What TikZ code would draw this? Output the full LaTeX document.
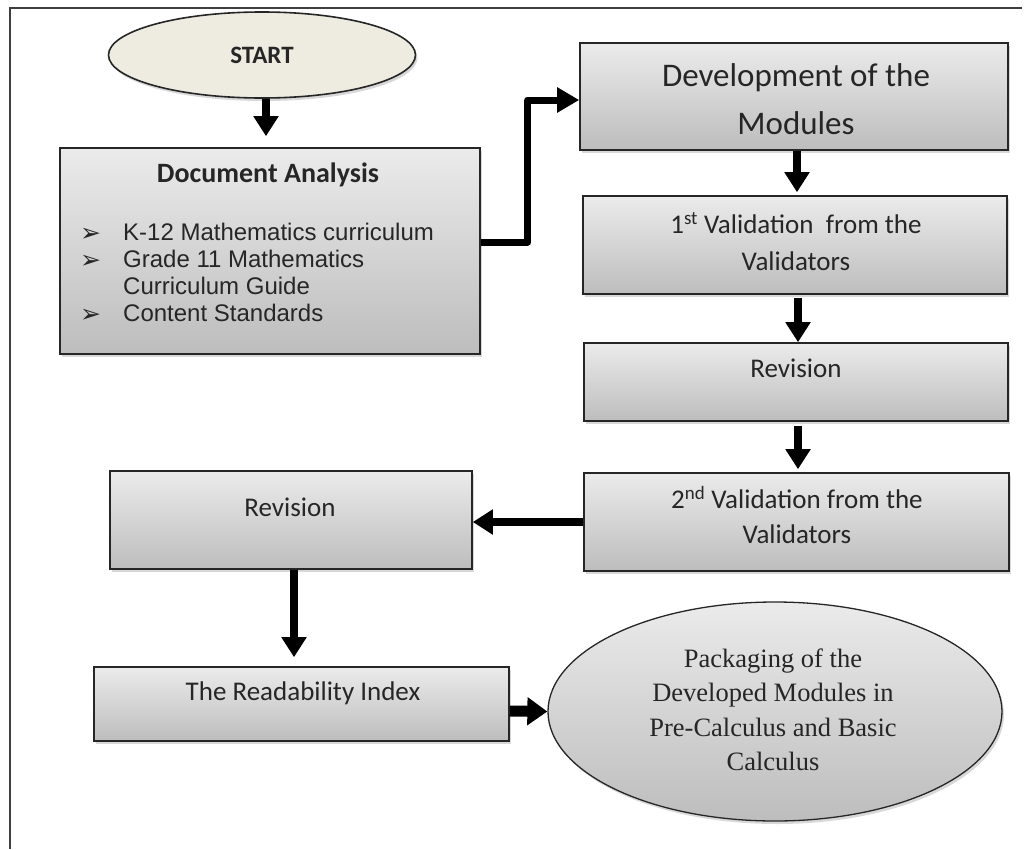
\documentclass[tikz,border=0pt]{standalone}
\usepackage{fontspec}
\setmainfont{Carlito}
\newfontfamily\arialf{Liberation Sans}
\newfontfamily\timesf{Liberation Serif}
\newfontfamily\dejavuf{DejaVu Sans}
\usetikzlibrary{shapes.geometric,arrows.meta,shadows}
\definecolor{boxtop}{HTML}{EBEBEB}
\definecolor{boxbot}{HTML}{BDBDBD}
\definecolor{startfill}{HTML}{EEECE1}
\definecolor{txt}{HTML}{262626}
\definecolor{framec}{HTML}{3F3F3F}
\newcommand{\bul}{\makebox[43pt][l]{\raisebox{-1pt}{\dejavuf\fontsize{25}{27}\selectfont ➢}}}
\begin{document}
\begin{tikzpicture}[x=1pt,y=-1pt,
  shade/.style={drop shadow={shadow xshift=2pt,shadow yshift=-3pt,opacity=0.3}},
  box/.style={rectangle, draw=black!85, line width=1.6pt, top color=boxtop, bottom color=boxbot, shade, inner sep=0pt},
  boxtext/.style={text=txt, align=center, font=\fontsize{27}{37}\selectfont},
  flow/.style={line width=8pt, -{Triangle[length=20pt,width=24pt]}},
]
\useasboundingbox (0,0) rectangle (1031,849);
\fill[white] (0,0) rectangle (1031,849);
\draw[framec, line width=1.5pt] (10,849) -- (10,8) -- (1022,8);

% shapes
\node[ellipse, draw=black!85, line width=1.6pt, fill=startfill, shade, minimum width=307pt, minimum height=86pt, inner sep=0pt] (start) at (262,55) {};
\node[box, minimum width=420pt, minimum height=206pt] (doc) at (270,251) {};
\node[box, minimum width=428pt, minimum height=107pt] (dev) at (794,96.5) {};
\node[box, minimum width=424pt, minimum height=98pt] (val1) at (795,245) {};
\node[box, minimum width=424pt, minimum height=78pt] (rev1) at (796,382) {};
\node[box, minimum width=425pt, minimum height=98pt] (val2) at (796.5,522) {};
\node[box, minimum width=362pt, minimum height=98pt] (rev2) at (291,520) {};
\node[box, minimum width=415pt, minimum height=74pt] (read) at (301.5,704) {};
\node[ellipse, draw=black!85, line width=1.3pt, top color=boxtop, bottom color=boxbot, shade, minimum width=454pt, minimum height=219pt, inner sep=0pt] (pack) at (775,711.5) {};

% texts
\node[text=txt, font=\bfseries\fontsize{25}{30}\selectfont] (startT) at (262,55) {START};
\node[text=txt, font=\bfseries\fontsize{28}{34}\selectfont] (docT) at (268,175) {Document Analysis};
\node[anchor=north west, inner sep=0pt, text=txt, align=left, font=\arialf\fontsize{24}{27}\selectfont] (docL) at (80,223)
  {\bul K-12 Mathematics curriculum\\
   \bul Grade 11 Mathematics\\
   \hspace*{43pt}Curriculum Guide\\
   \bul Content Standards};
\node[boxtext, font=\fontsize{33}{48}\selectfont] (devT) at (796,99) {Development of the\\Modules};
\node[boxtext] (val1T) at (796,241.5) {1\textsuperscript{st} Validation\ \ from the\\Validators};
\node[boxtext] (rev1T) at (796,368) {Revision};
\node[boxtext, font=\fontsize{27}{35}\selectfont] (val2T) at (797,515.5) {2\textsuperscript{nd} Validation from the\\Validators};
\node[boxtext] (rev2T) at (290,507) {Revision};
\node[boxtext] (readT) at (303,693) {The Readability Index};
\node[text=txt, align=center, font=\timesf\fontsize{26.5}{34.5}\selectfont] (packT) at (773,710) {Packaging of the\\Developed Modules in\\Pre-Calculus and Basic\\Calculus};

% connectors
\draw[flow, shorten >=11pt] ([xshift=4pt]start.south) -- ([xshift=-4pt]doc.north);
\draw[line width=7pt, line join=round, -{Triangle[length=22pt,width=24pt]}] ([yshift=9pt]doc.east) -- ++(47,0) |- ([yshift=-3.5pt]dev.west);
\draw[flow, shorten >=3pt] ([xshift=3pt]dev.south) -- ([xshift=2pt]val1.north);
\draw[flow, shorten <=3pt] ([xshift=3pt]val1.south) -- ([xshift=2pt]rev1.north);
\draw[flow, shorten <=4pt, shorten >=3pt] ([xshift=2pt]rev1.south) -- ([xshift=1.5pt]val2.north);
\draw[flow] (val2.west) -- ([yshift=-2pt]rev2.east);
\draw[flow, shorten >=9pt] ([xshift=3pt]rev2.south) -- ([xshift=-7.5pt]read.north);
\draw[line width=11pt, -{Triangle[length=20pt,width=27pt]}] ([yshift=-7pt]read.east) -- (pack.west);
\end{tikzpicture}
\end{document}
